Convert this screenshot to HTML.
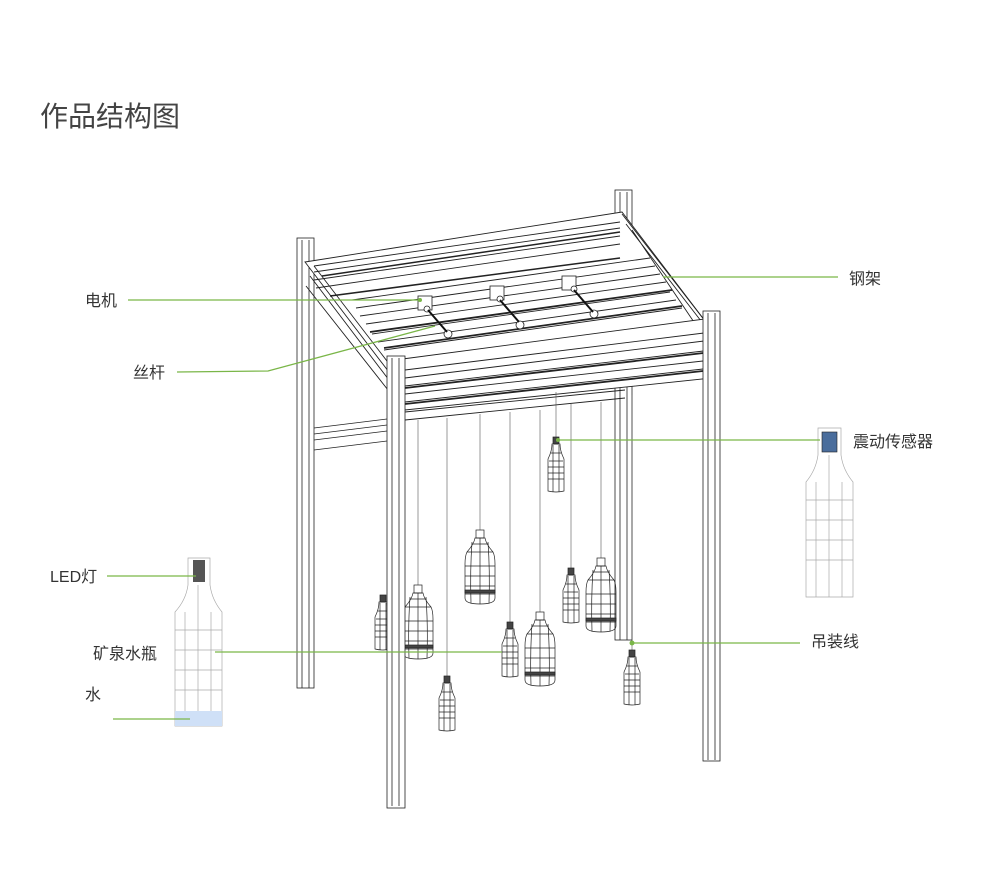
<!DOCTYPE html>
<html><head><meta charset="utf-8"><style>
body{margin:0;background:#fff;width:996px;height:880px;overflow:hidden}
svg{display:block}
text{font-family:"Liberation Sans","Noto Sans CJK SC",sans-serif;fill:#333}
</style></head><body>
<svg width="996" height="880" viewBox="0 0 996 880" xmlns="http://www.w3.org/2000/svg">
<defs>
<g id="bb" fill="none" stroke="#222" stroke-width="0.7">
<rect x="-4" y="0" width="8" height="8"/>
<path d="M-5 8 Q-6 14 -13 22 Q-15 26 -15 34 L-15 68 Q-15 74 0 74 Q15 74 15 68 L15 34 Q15 26 13 22 Q6 14 5 8 Z"/>
<path d="M-15 36 H15 M-15 46 H15 M-15 56 H15 M-15 64 H15 M-13 22 H13 M-8 14 H8"/>
<path d="M-8 12 Q-10 40 -9 73 M0 8 V74 M8 12 Q10 40 9 73"/>
<rect x="-15" y="60" width="30" height="3" fill="#444"/>
</g>
<g id="sb" fill="none" stroke="#222" stroke-width="0.7">
<rect x="-3" y="0" width="6" height="7" fill="#444"/>
<path d="M-4 7 Q-4 14 -8 22 L-8 54 Q0 56 8 54 L8 22 Q4 14 4 7 Z"/>
<path d="M-7 24 H7 M-8 30 H8 M-8 36 H8 M-8 42 H8 M-5 16 H5 M-3 8 V55 M3 8 V55"/>
</g>
</defs>

<text x="40" y="126" font-size="28" style="fill:#444">作品结构图</text>

<!-- back posts -->
<g fill="#fff" stroke="#222" stroke-width="0.8">
<rect x="297" y="238" width="17" height="450"/>
<line x1="302" y1="240" x2="302" y2="688"/><line x1="309" y1="240" x2="309" y2="688"/>
<rect x="615" y="190" width="17" height="450"/>
<line x1="620" y1="192" x2="620" y2="640"/><line x1="627" y1="192" x2="627" y2="640"/>
</g>
<!-- lower back crossbar -->
<g fill="none" stroke="#222" stroke-width="0.8">
<path d="M314 428 L395 418 M314 434 L395 424 M314 440 L395 430 M314 450 L395 440"/>
</g>
<!-- top frame -->
<g fill="#fff" stroke="#222" stroke-width="0.9">
<polygon points="305,262 622,212 712,330 395,380"/>
<path d="M314 266 L620 222 M314 272 L620 228 M314 280 L620 236 M316 288 L620 244"/>
<path d="M314 266 L400 378 M310 276 L392 384 M306 286 L388 390" />
<path d="M622 214 L712 330 M626 224 L708 330 M632 230 L706 340"/>
<path d="M352 300 L650 258 M356 308 L655 266 M360 316 L660 274 M366 324 L666 282 M372 334 L670 292 M378 342 L676 300 M384 350 L682 308"/>
<line x1="370" y1="332" x2="672" y2="290" stroke-width="1.8"/>
<line x1="384" y1="348" x2="682" y2="306" stroke-width="1.8"/>
<line x1="330" y1="296" x2="620" y2="258" stroke-width="1.5"/>
<line x1="322" y1="276" x2="620" y2="232" stroke-width="1.5"/>
</g>
<g fill="#fff" stroke="#222" stroke-width="0.9">
<polygon points="395,360 712,318 712,378 405,410"/>
<path d="M405 370 L712 332 M405 378 L712 340 M405 386 L712 350 M405 394 L712 360 M405 402 L712 368"/>
<line x1="405" y1="388" x2="712" y2="352" stroke-width="1.8"/>
<line x1="405" y1="404" x2="712" y2="370" stroke-width="1.8"/>
<path d="M405 412 L625 390 M405 420 L625 398" fill="none"/>
</g>
<!-- motors -->
<g fill="#fff" stroke="#222" stroke-width="0.8">
<rect x="418" y="296" width="14" height="14"/><circle cx="427" cy="309" r="3"/>
<rect x="490" y="286" width="14" height="14"/><circle cx="500" cy="299" r="3"/>
<rect x="562" y="276" width="14" height="14"/><circle cx="574" cy="289" r="3"/>
<circle cx="448" cy="334" r="4"/><circle cx="520" cy="325" r="4"/><circle cx="594" cy="314" r="4"/>
</g>
<g stroke="#111" stroke-width="2"><line x1="428" y1="310" x2="447" y2="332"/><line x1="500" y1="300" x2="519" y2="322"/><line x1="574" y1="290" x2="593" y2="312"/></g>

<!-- strings -->
<g stroke="#555" stroke-width="0.6">
<line x1="418" y1="420" x2="418" y2="585"/><line x1="447" y1="418" x2="447" y2="676"/>
<line x1="480" y1="414" x2="480" y2="530"/><line x1="510" y1="412" x2="510" y2="622"/>
<line x1="540" y1="410" x2="540" y2="612"/><line x1="556" y1="392" x2="556" y2="437"/>
<line x1="571" y1="404" x2="571" y2="568"/><line x1="601" y1="402" x2="601" y2="558"/>
<line x1="632" y1="395" x2="632" y2="650"/>
</g>
<!-- bottles -->
<use href="#sb" x="383" y="595"/>
<use href="#bb" x="480" y="530"/><use href="#bb" x="418" y="585"/><use href="#bb" x="540" y="612"/><use href="#bb" x="601" y="558"/>
<use href="#sb" x="556" y="437"/><use href="#sb" x="571" y="568"/><use href="#sb" x="510" y="622"/><use href="#sb" x="447" y="676"/><use href="#sb" x="632" y="650"/>

<!-- front posts -->
<g fill="#fff" stroke="#222" stroke-width="0.8">
<rect x="387" y="356" width="18" height="452"/>
<line x1="392" y1="358" x2="392" y2="806"/><line x1="399" y1="358" x2="399" y2="806"/>
<rect x="703" y="311" width="17" height="450"/>
<line x1="708" y1="313" x2="708" y2="760"/><line x1="715" y1="313" x2="715" y2="760"/>
</g>

<!-- side bottles -->
<g fill="none" stroke="#aaa" stroke-width="0.7">
<path d="M188 558 H210 V585 Q212 600 222 612 V726 H175 V612 Q186 600 188 585 Z"/>
<path d="M175 630 H222 M175 650 H222 M175 670 H222 M175 690 H222 M185 612 V726 M198 585 V726 M211 612 V726"/>
<path d="M818 428 H841 V455 Q843 470 853 482 V597 H806 V482 Q816 470 818 455 Z"/>
<path d="M806 500 H853 M806 520 H853 M806 540 H853 M806 560 H853 M816 482 V597 M829 455 V597 M842 482 V597"/>
</g>
<rect x="175" y="711" width="47" height="15" fill="#cfe0f7"/>
<rect x="193" y="560" width="12" height="22" fill="#555"/>
<rect x="822" y="432" width="15" height="20" fill="#4a6d9c" stroke="#222" stroke-width="0.6"/>

<!-- leaders -->
<g stroke="#7ab648" stroke-width="1.3" fill="none">
<path d="M128 300 H420"/><path d="M177 372 L268 371 L435 326"/>
<path d="M663 277 H838"/><path d="M558 440 H820"/>
<path d="M107 576 H196"/><path d="M215 652 H502"/>
<path d="M113 719 H190"/><path d="M632 643 H800"/>
</g>
<g fill="#7ab648"><circle cx="632" cy="643" r="2.5"/><circle cx="420" cy="300" r="2"/><circle cx="558" cy="440" r="2"/></g>

<g font-size="16">
<text x="85" y="306">电机</text>
<text x="133" y="378">丝杆</text>
<text x="849" y="284">钢架</text>
<text x="853" y="447">震动传感器</text>
<text x="50" y="582">LED灯</text>
<text x="93" y="659">矿泉水瓶</text>
<text x="85" y="700">水</text>
<text x="811" y="647">吊装线</text>
</g>
</svg>
</body></html>
